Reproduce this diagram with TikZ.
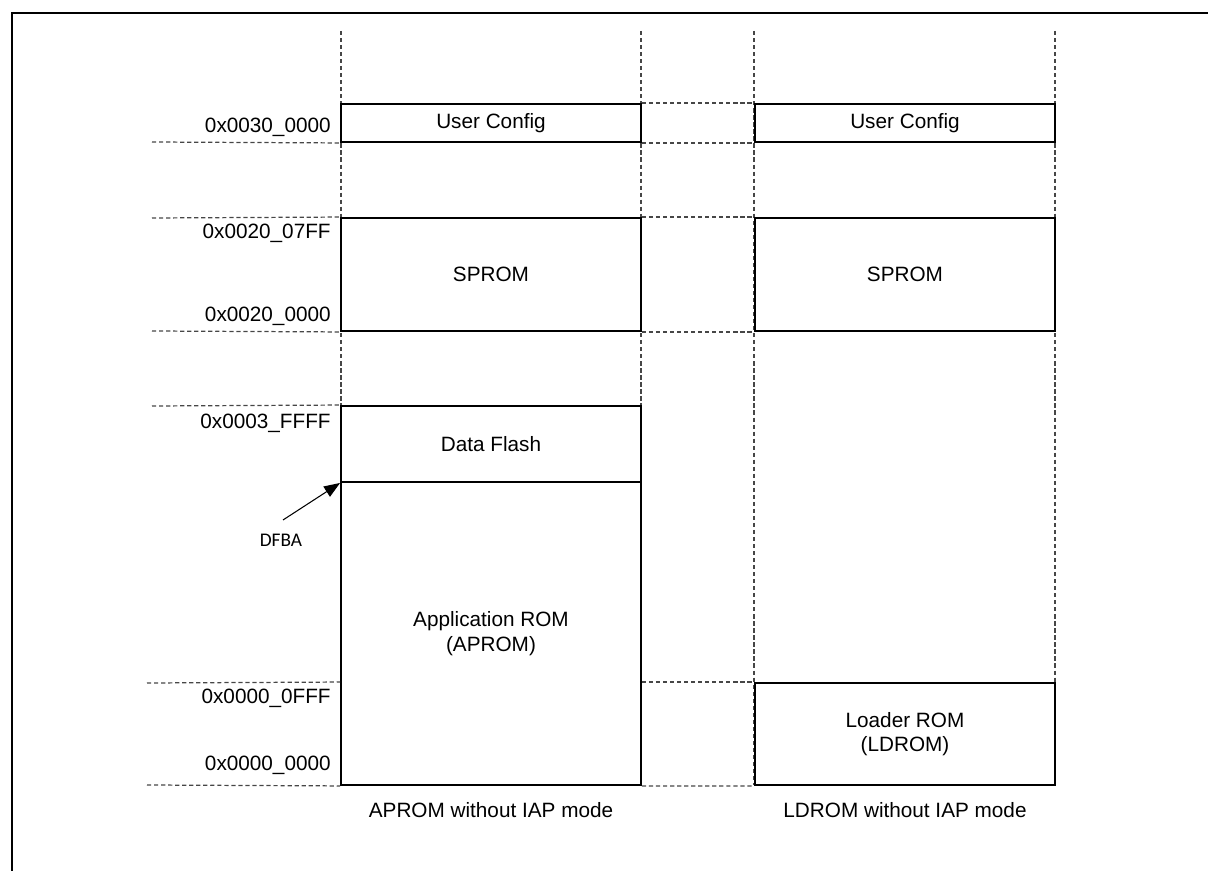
\documentclass[tikz,border=0pt]{standalone}
\usepackage{fontspec}
\setmainfont{Liberation Sans}
\newfontfamily\dfbafont{Carlito}
\usetikzlibrary{arrows.meta, positioning}

\begin{document}
\begin{tikzpicture}[x=0.02cm, y=-0.02cm, font=\fontsize{11.8}{14}\selectfont,
  >={Triangle[length=0.32cm, width=0.24cm]},
  membox/.style={draw, line width=1.1pt, fill=white, minimum width=6cm, inner sep=0pt, align=center},
  guide/.style={gray!55!black, line width=0.7pt, dash pattern=on 2.4pt off 1.6pt},
  addr/.style={anchor=east, inner sep=0pt}]
  \clip (0,0) rectangle (1208,871);
  % outer frame
  \draw[line width=1.7pt] (12,900) -- (12,13) -- (1240,13);

  % column guides
  \foreach \gx in {341, 641, 754, 1055}{
    \draw[guide] (\gx,31) -- (\gx,785);
  }

  % APROM without IAP mode
  \node[membox, minimum height=0.76cm] (ucfgA) at (491,123) {User Config};
  \node[membox, minimum height=2.26cm] (spromA) at (491,274.5) {SPROM};
  \node[membox, minimum height=1.52cm] (dflash) at (491,444) {Data Flash};
  \node[membox, minimum height=6.06cm] (aprom) at (491,633.5) {Application ROM\\(APROM)};

  % LDROM without IAP mode
  \node[membox, minimum height=0.76cm] (ucfgB) at (905,123) {User Config};
  \node[membox, minimum height=2.26cm] (spromB) at (905,274.5) {SPROM};
  \node[membox, minimum height=2.04cm] (ldrom) at (905,734) {Loader ROM\\(LDROM)};

  % dashed address levels
  \draw[guide] (ucfgA.north east) -- (ucfgB.north west);
  \draw[guide] (ucfgA.south east) -- (ucfgB.south west);
  \draw[guide] (spromA.north east) -- (spromB.north west);
  \draw[guide] (spromA.south east) -- (spromB.south west);
  \draw[guide] (aprom.east |- ldrom.north) -- (ldrom.north west);
  \draw[guide] (aprom.south east) -- (ldrom.south west);
  \draw[guide] (152,142) -- (ucfgA.south west);
  \draw[guide] (152,218) -- (spromA.north west);
  \draw[guide] (152,331) -- (spromA.south west);
  \draw[guide] (152,406) -- (dflash.north west);
  \draw[guide] (147,683) -- (aprom.west |- ldrom.north);
  \draw[guide] (147,785) -- (aprom.south west);

  % addresses
  \node[addr] (a300000) at (331,127) {0x0030\_0000};
  \node[addr] (a2007ff) at (331,233) {0x0020\_07FF};
  \node[addr] (a200000) at (331,316) {0x0020\_0000};
  \node[addr] (a03ffff) at (331,423) {0x0003\_FFFF};
  \node[addr] (a000fff) at (331,698) {0x0000\_0FFF};
  \node[addr] (a000000) at (331,765) {0x0000\_0000};

  % data flash base address
  \node[font=\dfbafont\fontsize{11}{13}\selectfont] (dfba) at (281,540) {DFBA};
  \draw[->, line width=0.6pt] (283,520) -- (dflash.south west);

  % captions
  \node (capA) at (491,810) {APROM without IAP mode};
  \node (capB) at (905,810) {LDROM without IAP mode};
\end{tikzpicture}
\end{document}
